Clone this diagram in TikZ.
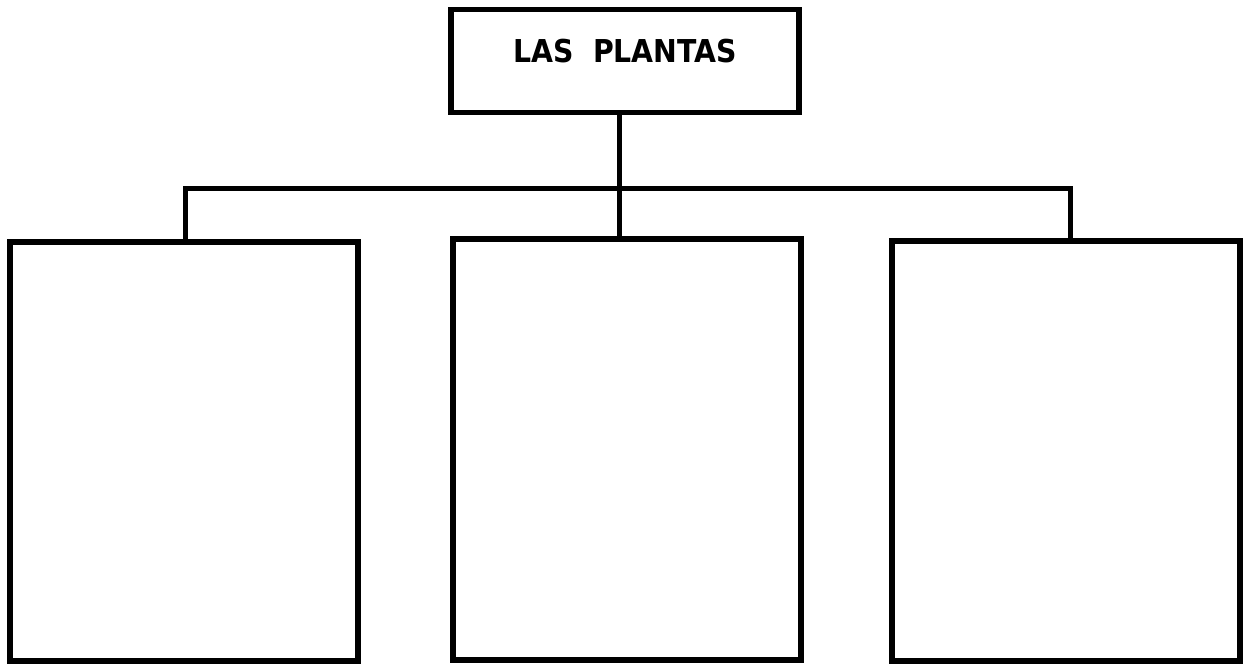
\documentclass[tikz,border=0pt]{standalone}
\usepackage{fontspec}
\newfontfamily\titlefont{DejaVu Sans Condensed}[BoldFont={DejaVu Sans Condensed Bold}]
\begin{document}
\begin{tikzpicture}[x=1pt,y=-1pt,
  box/.style={draw=black,line width=5.5pt,rectangle,inner sep=0pt,outer sep=0pt,minimum width=348pt},
  link/.style={draw=black,line width=5pt}]
\useasboundingbox (0,0) rectangle (1246,664);
\node[box,minimum height=103pt,text height=23pt,text depth=20pt,font=\titlefont\bfseries\fontsize{31.5}{36}\selectfont] (top) at (625,61) {LAS\ \ PLANTAS};
\node[box,minimum height=419pt] (left) at (184,451.5) {};
\node[box,minimum height=421pt] (mid) at (627,449.5) {};
\node[box,minimum height=420pt] (right) at (1066,451) {};
\coordinate (j) at (619,188);
\coordinate (barL) at (185,188);
\coordinate (barR) at (1070,188);
\draw[link] (top.south -| j) -- (mid.north -| j);
\draw[link] (left.north -| barL) -- (barL) -- (barR) -- (right.north -| barR);
\end{tikzpicture}
\end{document}
